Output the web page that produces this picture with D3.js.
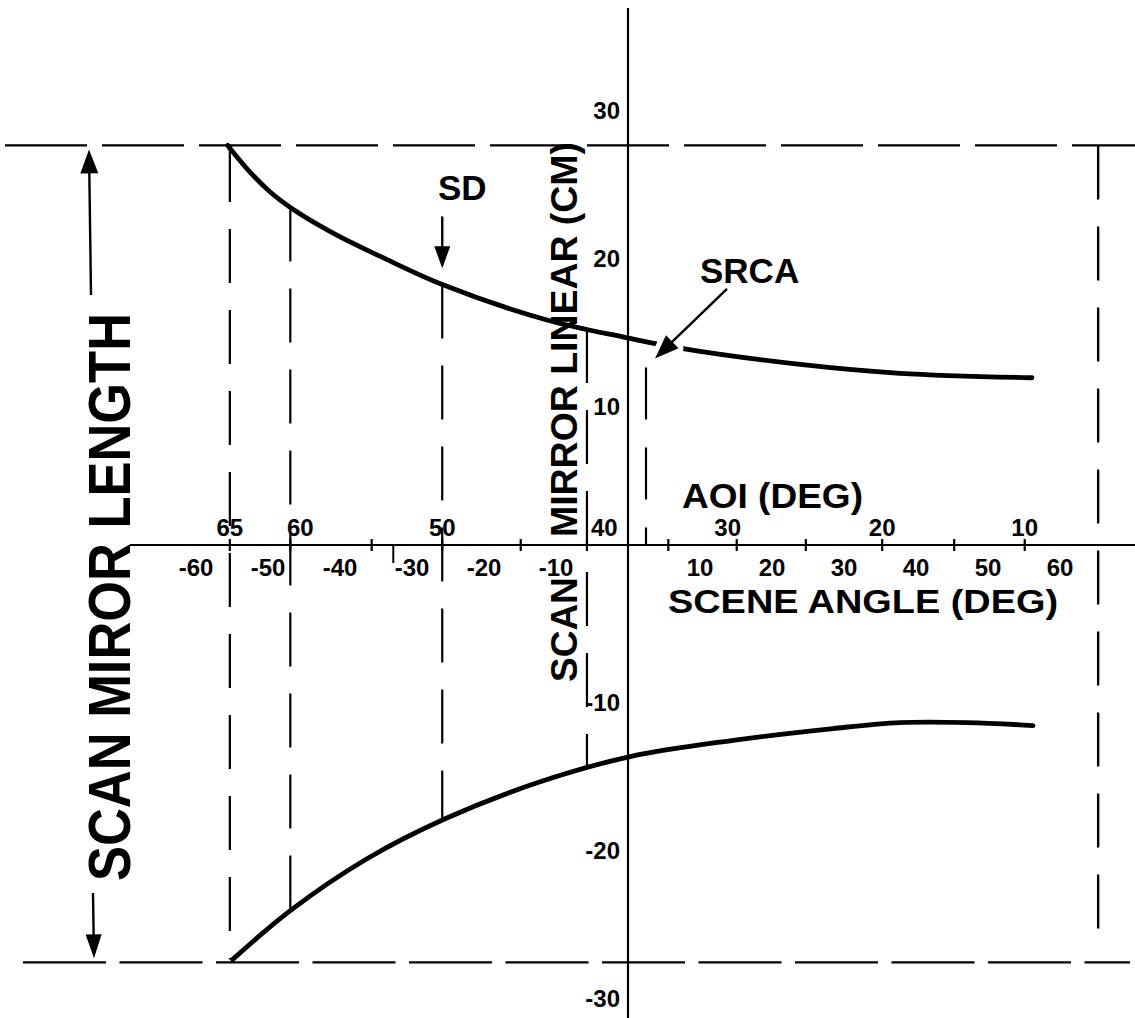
<!DOCTYPE html>
<html>
<head>
<meta charset="utf-8">
<script src="https://cdn.jsdelivr.net/npm/d3@7"></script>
<style>
  html, body { margin: 0; padding: 0; background: #fff; }
  svg { display: block; }
</style>
</head>
<body>
<script>
// Scan mirror edge position (cm) against scene angle (deg), upper and lower edge
const upperScene = [-55.6, -52.5, -49.7, -46.8, -40.7, -34.4, -25.8, -11.25, -0.14, 7.2, 23.9, 37.8, 56.1];
const upperCm    = [27.0, 25.2, 23.85, 22.77, 21.0, 19.5, 17.6, 15.2, 14.0, 13.3, 12.2, 11.6, 11.3];
const lowerScene = [-54.9, -46.9, -36.25, -25.4, -12.2, 0.3, 14.6, 28.5, 37.8, 47.1, 56.25];
const lowerCm    = [-28.0, -24.7, -21.2, -18.5, -16.0, -14.3, -13.2, -12.4, -12.0, -12.0, -12.2];

// Mirror length limits (cm)
const mirrorLimits = [27.0, -28.2];

// Angle-of-incidence ticks and the scene angle each one falls on
const aoiTicks     = [65, 60, 55, 50, 45, 40, 35, 30, 25, 20, 15, 10];
const aoiTickScene = [-55.3, -46.9, -35.6, -25.8, -14.9, -5.7, 5.6, 15.1, 24.7, 35.3, 45.3, 55.1];
const aoiLabels    = [65, 60, 50, 40, 30, 20, 10];
const aoiGuides    = [65, 60, 50, 40];

// Scene angle and mirror axis labels
const sceneLabels = [-60, -50, -40, -30, -20, -10, 10, 20, 30, 40, 50, 60];
const sceneMinorTicks = [-32.6];
const cmLabels = [30, 20, 10, -10, -20, -30];

// Calibration target (SRCA) and solar diffuser (SD) positions
const srcaScene = 2.5, srcaTop = 12.0;
const srcaArrow = { fromScene: 13.75, fromCm: 17.3, toScene: 3.75, toCm: 12.6 };
const sdAoi = 50, sdArrowFrom = 22.2, sdArrowTo = 18.7;
const sceneLimit = 65.3, sceneLimitLow = -26.7;

const W = 1135, H = 1018;
const FONT = "'Liberation Sans', Arial, Helvetica, sans-serif";

const svg = d3.select("body").append("svg")
  .attr("width", W).attr("height", H)
  .attr("viewBox", `0 0 ${W} ${H}`);

const x = d3.scaleLinear().domain([-60, 60]).range([196, 1060]);
const y = d3.scaleLinear().domain([-30, 30]).range([989, 101]);
const aoiToScene = d3.scaleLinear().domain(aoiTicks).range(aoiTickScene);
const upperAt = d3.scaleLinear().domain(upperScene).range(upperCm).clamp(true);
const lowerAt = d3.scaleLinear().domain(lowerScene).range(lowerCm).clamp(true);

const ink = "#000";
const g = svg.append("g");

// Mirror length limits (horizontal dashed lines)
g.append("line")
  .attr("x1", 5).attr("x2", W)
  .attr("y1", y(mirrorLimits[0])).attr("y2", y(mirrorLimits[0]))
  .attr("stroke", ink).attr("stroke-width", 2.4)
  .attr("stroke-dasharray", "82,15");
g.append("line")
  .attr("x1", 23).attr("x2", 1130)
  .attr("y1", y(mirrorLimits[1])).attr("y2", y(mirrorLimits[1]))
  .attr("stroke", ink).attr("stroke-width", 2.4)
  .attr("stroke-dasharray", "83,13.5");

// Axes
g.append("line")
  .attr("x1", 130).attr("x2", W)
  .attr("y1", y(0)).attr("y2", y(0))
  .attr("stroke", ink).attr("stroke-width", 2.2);
g.append("line")
  .attr("x1", x(0)).attr("x2", x(0))
  .attr("y1", 8).attr("y2", H)
  .attr("stroke", ink).attr("stroke-width", 2.2);

// AOI guides between the two mirror edges
g.selectAll("line.guide").data(aoiGuides).join("line")
  .attr("class", "guide")
  .attr("x1", d => x(aoiToScene(d))).attr("x2", d => x(aoiToScene(d)))
  .attr("y1", d => y(upperAt(aoiToScene(d))))
  .attr("y2", d => y(lowerAt(aoiToScene(d))))
  .attr("stroke", ink).attr("stroke-width", 2.2)
  .attr("stroke-dasharray", "54,27");

// SRCA guide
g.append("line")
  .attr("x1", x(srcaScene)).attr("x2", x(srcaScene))
  .attr("y1", y(srcaTop)).attr("y2", y(0))
  .attr("stroke", ink).attr("stroke-width", 2.2)
  .attr("stroke-dasharray", "52,28");

// Scene limit on the right
g.append("line")
  .attr("x1", x(sceneLimit)).attr("x2", x(sceneLimit))
  .attr("y1", y(mirrorLimits[0])).attr("y2", y(sceneLimitLow))
  .attr("stroke", ink).attr("stroke-width", 2.4)
  .attr("stroke-dasharray", "54,27");

// AOI ticks crossing the axis
g.selectAll("line.aoitick").data(aoiTicks).join("line")
  .attr("class", "aoitick")
  .attr("x1", d => x(aoiToScene(d))).attr("x2", d => x(aoiToScene(d)))
  .attr("y1", y(0) - 6).attr("y2", y(0) + 6)
  .attr("stroke", ink).attr("stroke-width", 2.2);

g.selectAll("line.scenetick").data(sceneMinorTicks).join("line")
  .attr("class", "scenetick")
  .attr("x1", d => x(d)).attr("x2", d => x(d))
  .attr("y1", y(0)).attr("y2", y(0) + 18)
  .attr("stroke", ink).attr("stroke-width", 2);

// Mirror edge curves
const line = d3.line().x(d => x(d[0])).y(d => y(d[1])).curve(d3.curveCatmullRom.alpha(0.5));
g.append("path")
  .attr("d", line(d3.zip(upperScene, upperCm)))
  .attr("fill", "none").attr("stroke", ink).attr("stroke-width", 4.8)
  .attr("stroke-linecap", "round");
g.append("path")
  .attr("d", line(d3.zip(lowerScene, lowerCm)))
  .attr("fill", "none").attr("stroke", ink).attr("stroke-width", 4.8)
  .attr("stroke-linecap", "round");

// Arrow helper: shaft from (x1,y1) to tip (x2,y2)
function arrow(x1, y1, x2, y2, headLen, headHalf, halo) {
  const dx = x2 - x1, dy = y2 - y1, len = Math.hypot(dx, dy);
  const ux = dx / len, uy = dy / len, px = -uy, py = ux;
  const bx = x2 - ux * headLen, by = y2 - uy * headLen;
  const head = `M${x2},${y2}L${bx + px * headHalf},${by + py * headHalf}L${bx - px * headHalf},${by - py * headHalf}Z`;
  if (halo) {
    g.append("path").attr("d", head).attr("fill", "#fff")
      .attr("stroke", "#fff").attr("stroke-width", 10).attr("stroke-linejoin", "round");
  }
  g.append("line")
    .attr("x1", x1).attr("y1", y1).attr("x2", bx + ux * 2).attr("y2", by + uy * 2)
    .attr("stroke", ink).attr("stroke-width", 2.4);
  g.append("path").attr("d", head).attr("fill", ink);
}

// SD arrow
const sdX = x(aoiToScene(sdAoi));
arrow(sdX, y(sdArrowFrom), sdX, y(sdArrowTo), 22, 8, false);

// SRCA arrow
arrow(x(srcaArrow.fromScene), y(srcaArrow.fromCm), x(srcaArrow.toScene), y(srcaArrow.toCm), 24, 9, true);

// Mirror length arrows on the left
arrow(91, 295, 89, y(mirrorLimits[0]) + 4, 24, 9, false);
arrow(93, 893, 94, y(mirrorLimits[1]) - 4, 24, 8, false);

// Tick labels
const tickFont = { "font-family": FONT, "font-weight": "bold", "font-size": "24px" };
function style(sel, s) { Object.entries(s).forEach(([k, v]) => sel.attr(k, v)); return sel; }

style(g.selectAll("text.scene").data(sceneLabels).join("text"), tickFont)
  .attr("class", "scene")
  .attr("x", d => x(d)).attr("y", 576)
  .attr("text-anchor", "middle")
  .text(d => d);

style(g.selectAll("text.aoi").data(aoiLabels).join("text"), tickFont)
  .attr("class", "aoi")
  .attr("x", d => x(aoiToScene(d)) + (d === 40 ? 4 : d === 60 ? 10 : d === 30 ? -9 : 0))
  .attr("y", 536)
  .attr("text-anchor", d => d === 40 ? "start" : "middle")
  .text(d => d);

style(g.selectAll("text.cm").data(cmLabels).join("text"), tickFont)
  .attr("class", "cm")
  .attr("x", x(0) - 8).attr("y", d => y(d) + 18)
  .attr("text-anchor", "end")
  .text(d => d);

// Titles and annotations
const bigFont = { "font-family": FONT, "font-weight": "bold" };
style(g.append("text"), bigFont)
  .attr("x", 668).attr("y", 613).attr("font-size", "34px")
  .attr("textLength", 390).attr("lengthAdjust", "spacingAndGlyphs")
  .text("SCENE ANGLE (DEG)");
style(g.append("text"), bigFont)
  .attr("x", 682).attr("y", 508).attr("font-size", "35px")
  .attr("textLength", 181).attr("lengthAdjust", "spacingAndGlyphs")
  .text("AOI (DEG)");
style(g.append("text"), bigFont)
  .attr("x", 438).attr("y", 200).attr("font-size", "35px")
  .text("SD");
style(g.append("text"), bigFont)
  .attr("x", 700).attr("y", 283).attr("font-size", "35px")
  .text("SRCA");

// Vertical axis title, split around the scene-angle tick labels
style(g.append("text"), bigFont)
  .attr("transform", `translate(577,682) rotate(-90)`)
  .attr("font-size", "37px")
  .text("SCAN");
style(g.append("text"), bigFont)
  .attr("transform", `translate(577,537) rotate(-90)`)
  .attr("font-size", "37px")
  .attr("textLength", 395).attr("lengthAdjust", "spacingAndGlyphs")
  .text("MIRROR LINEAR (CM)");

style(g.append("text"), bigFont)
  .attr("transform", `translate(130,597) rotate(-90)`)
  .attr("text-anchor", "middle").attr("font-size", "60px")
  .attr("textLength", 568).attr("lengthAdjust", "spacingAndGlyphs")
  .text("SCAN MIROR LENGTH");
</script>
</body>
</html>
